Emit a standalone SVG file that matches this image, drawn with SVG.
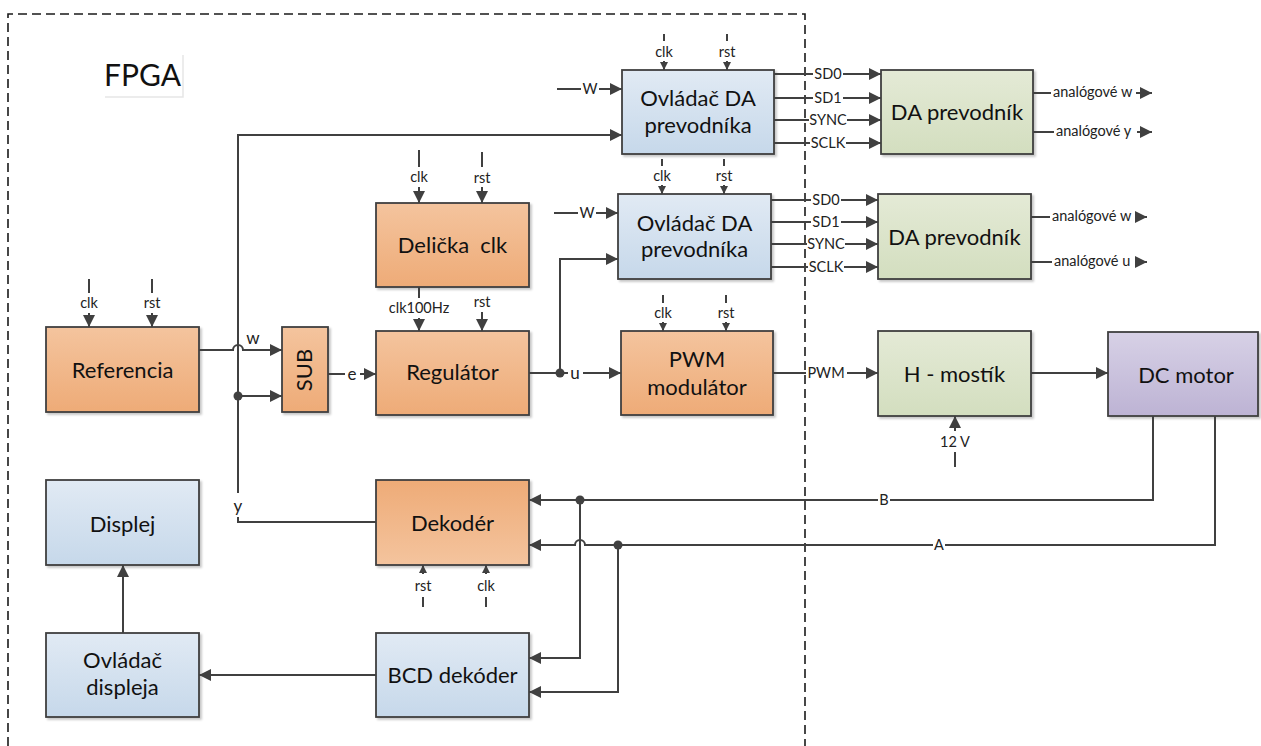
<svg xmlns="http://www.w3.org/2000/svg" width="1261" height="746" viewBox="0 0 1261 746">
  <defs>
    <linearGradient id="gOr" x1="0" y1="0" x2="0" y2="1">
      <stop offset="0" stop-color="#f4c49e"/>
      <stop offset="1" stop-color="#eeab77"/>
    </linearGradient>
    <linearGradient id="gOrR" x1="0" y1="0" x2="0" y2="1">
      <stop offset="0" stop-color="#eeab77"/>
      <stop offset="1" stop-color="#f4c49e"/>
    </linearGradient>
    <linearGradient id="gBl" x1="0" y1="0" x2="0" y2="1">
      <stop offset="0" stop-color="#e1eaf4"/>
      <stop offset="1" stop-color="#c6d8ea"/>
    </linearGradient>
    <linearGradient id="gGr" x1="0" y1="0" x2="0" y2="1">
      <stop offset="0" stop-color="#e4ead6"/>
      <stop offset="1" stop-color="#d3debf"/>
    </linearGradient>
    <linearGradient id="gPu" x1="0" y1="0" x2="0" y2="1">
      <stop offset="0" stop-color="#d7d1e6"/>
      <stop offset="1" stop-color="#bdb3d4"/>
    </linearGradient>
    <filter id="sh" x="-10%" y="-10%" width="130%" height="130%">
      <feDropShadow dx="2" dy="2" stdDeviation="1" flood-color="#000" flood-opacity="0.22"/>
    </filter>
    <marker id="ah" markerUnits="userSpaceOnUse" markerWidth="13" markerHeight="12" refX="12" refY="6" orient="auto">
      <path d="M0,0 L12,6 L0,12 z" fill="#404040"/>
    </marker>
    <marker id="as" markerUnits="userSpaceOnUse" markerWidth="9" markerHeight="8" refX="8" refY="4" orient="auto">
      <path d="M0,0 L8,4 L0,8 z" fill="#404040"/>
    </marker>
  </defs>
  <style>
    .box { stroke: #404040; stroke-width: 1.8; filter: url(#sh); }
    .w { fill: none; stroke: #404040; stroke-width: 2; }
    .a { marker-end: url(#ah); }
    .as { marker-end: url(#as); }
    .t { font-family: Lato, "Liberation Sans", sans-serif; font-size: 22px; fill: #111; text-anchor: middle; }
    .s { font-family: Lato, "Liberation Sans", sans-serif; font-size: 14.5px; fill: #222; text-anchor: middle; }
    .m { font-family: Lato, "Liberation Sans", sans-serif; font-size: 17px; fill: #222; text-anchor: middle; }
    .st { text-anchor: start; }
    .dot { fill: #404040; }
  </style>

  <rect width="1261" height="746" fill="#fff"/>

  <!-- FPGA boundary -->
  <g id="fpga">
    <path d="M8,746 V14 H805 V746" fill="none" stroke="#1a1a1a" stroke-width="1.6" stroke-dasharray="9,5"/>
    <polyline points="105,97 183,97 183,55" fill="none" stroke="#e6e6e6" stroke-width="1.5"/>
    <text x="104" y="86" font-family="Lato, 'Liberation Sans', sans-serif" font-size="30" fill="#111">FPGA</text>
  </g>

  <!-- blocks -->
  <g id="referencia">
    <rect class="box" x="46" y="327" width="153" height="85" fill="url(#gOr)"/>
    <text class="t" x="122.5" y="378">Referencia</text>
  </g>
  <g id="sub">
    <rect class="box" x="282" y="327" width="46" height="85" fill="url(#gOr)"/>
    <text class="t" transform="translate(312,370) rotate(-90)" x="0" y="0">SUB</text>
  </g>
  <g id="delicka">
    <rect class="box" x="376" y="203" width="153" height="84" fill="url(#gOr)"/>
    <text class="t" x="452.5" y="253" xml:space="preserve">Delička  clk</text>
  </g>
  <g id="regulator">
    <rect class="box" x="376" y="331" width="153" height="84" fill="url(#gOr)"/>
    <text class="t" x="452.5" y="380">Regulátor</text>
  </g>
  <g id="ovladac-da-1">
    <rect class="box" x="622" y="70" width="152" height="84" fill="url(#gBl)"/>
    <text class="t" x="698" y="106">Ovládač DA</text>
    <text class="t" x="698" y="133">prevodníka</text>
  </g>
  <g id="ovladac-da-2">
    <rect class="box" x="618" y="194" width="153" height="85" fill="url(#gBl)"/>
    <text class="t" x="694.5" y="231">Ovládač DA</text>
    <text class="t" x="694.5" y="257">prevodníka</text>
  </g>
  <g id="pwm">
    <rect class="box" x="621" y="331" width="152" height="84" fill="url(#gOr)"/>
    <text class="t" x="697" y="367">PWM</text>
    <text class="t" x="697" y="395">modulátor</text>
  </g>
  <g id="da-prevodnik-1">
    <rect class="box" x="881" y="70" width="152" height="84" fill="url(#gGr)"/>
    <text class="t" x="957" y="120">DA prevodník</text>
  </g>
  <g id="da-prevodnik-2">
    <rect class="box" x="878" y="194" width="153" height="85" fill="url(#gGr)"/>
    <text class="t" x="954.5" y="245">DA prevodník</text>
  </g>
  <g id="h-mostik">
    <rect class="box" x="878" y="331" width="153" height="85" fill="url(#gGr)"/>
    <text class="t" x="954.5" y="382">H - mostík</text>
  </g>
  <g id="dc-motor">
    <rect class="box" x="1108" y="332" width="150" height="84" fill="url(#gPu)"/>
    <text class="t" x="1186" y="383">DC motor</text>
  </g>
  <g id="dekoder">
    <rect class="box" x="376" y="480" width="153" height="85" fill="url(#gOrR)"/>
    <text class="t" x="452.5" y="531">Dekodér</text>
  </g>
  <g id="bcd-dekoder">
    <rect class="box" x="376" y="633" width="153" height="84" fill="url(#gBl)"/>
    <text class="t" x="452.5" y="683">BCD dekóder</text>
  </g>
  <g id="displej">
    <rect class="box" x="46" y="480" width="153" height="85" fill="url(#gBl)"/>
    <text class="t" x="122.5" y="532">Displej</text>
  </g>
  <g id="ovladac-displeja">
    <rect class="box" x="46" y="633" width="153" height="84" fill="url(#gBl)"/>
    <text class="t" x="122.5" y="668">Ovládač</text>
    <text class="t" x="122.5" y="695">displeja</text>
  </g>

  <!-- connectors -->
  <g id="connectors">
    <!-- DA driver 1 -->
    <path class="w" d="M664,34 V41"/>
    <text class="s" x="664" y="57">clk</text>
    <path class="w as" d="M664,61 V70"/>
    <path class="w" d="M727,34 V41"/>
    <text class="s" x="727" y="57">rst</text>
    <path class="w as" d="M727,61 V70"/>
    <path class="w" d="M557,89 H581"/>
    <text class="s" x="590" y="94">W</text>
    <path class="w a" d="M599,89 H622"/>
    <path class="w" d="M774,74 H813"/>
    <text class="s" x="828" y="79">SD0</text>
    <path class="w a" d="M843,74 H881"/>
    <path class="w" d="M774,98 H813"/>
    <text class="s" x="828" y="103">SD1</text>
    <path class="w a" d="M843,98 H881"/>
    <path class="w" d="M774,120 H809"/>
    <text class="s" x="828" y="125">SYNC</text>
    <path class="w a" d="M847,120 H881"/>
    <path class="w" d="M774,143 H810"/>
    <text class="s" x="828" y="148">SCLK</text>
    <path class="w a" d="M846,143 H881"/>

    <!-- DA converter 1 outputs -->
    <path class="w" d="M1033,93 H1051"/>
    <text class="s st" x="1053" y="97">analógové w</text>
    <path class="w a" d="M1136,93 H1152"/>
    <path class="w" d="M1033,132 H1054"/>
    <text class="s st" x="1056" y="136">analógové y</text>
    <path class="w a" d="M1137,132 H1152"/>

    <!-- DA driver 2 -->
    <path class="w" d="M662,159 V166"/>
    <text class="s" x="662" y="181">clk</text>
    <path class="w as" d="M662,185 V194"/>
    <path class="w" d="M724,159 V166"/>
    <text class="s" x="724" y="181">rst</text>
    <path class="w as" d="M724,185 V194"/>
    <path class="w" d="M554,213 H578"/>
    <text class="s" x="587" y="218">W</text>
    <path class="w a" d="M596,213 H618"/>
    <path class="w" d="M771,200 H811"/>
    <text class="s" x="826" y="205">SD0</text>
    <path class="w a" d="M841,200 H878"/>
    <path class="w" d="M771,222 H811"/>
    <text class="s" x="826" y="227">SD1</text>
    <path class="w a" d="M841,222 H878"/>
    <path class="w" d="M771,244 H807"/>
    <text class="s" x="826" y="249">SYNC</text>
    <path class="w a" d="M845,244 H878"/>
    <path class="w" d="M771,267 H808"/>
    <text class="s" x="826" y="272">SCLK</text>
    <path class="w a" d="M844,267 H878"/>

    <!-- DA converter 2 outputs -->
    <path class="w" d="M1031,217 H1050"/>
    <text class="s st" x="1052" y="221">analógové w</text>
    <path class="w a" d="M1135,217 H1147"/>
    <path class="w" d="M1031,262 H1052"/>
    <text class="s st" x="1054" y="266">analógové u</text>
    <path class="w a" d="M1135,262 H1147"/>

    <!-- clock divider -->
    <path class="w" d="M419,150 V167"/>
    <text class="s" x="419" y="182">clk</text>
    <path class="w a" d="M419,187 V203"/>
    <path class="w" d="M482,152 V167"/>
    <text class="s" x="482" y="183">rst</text>
    <path class="w a" d="M482,187 V203"/>

    <!-- controller -->
    <path class="w" d="M419,287 V298"/>
    <text class="s" x="419" y="313">clk100Hz</text>
    <path class="w a" d="M419,318 V331"/>
    <text class="s" x="482" y="307">rst</text>
    <path class="w a" d="M482,312 V331"/>

    <!-- reference -->
    <path class="w" d="M89,279 V293"/>
    <text class="s" x="89" y="308">clk</text>
    <path class="w a" d="M89,313 V327"/>
    <path class="w" d="M152,279 V293"/>
    <text class="s" x="152" y="308">rst</text>
    <path class="w a" d="M152,313 V327"/>

    <!-- w, y, e, u signals -->
    <path class="w a" d="M199,350 H233 a5,5 0 0 1 10,0 H282"/>
    <text class="m" x="253" y="344">w</text>
    <path class="w a" d="M238,396 H282"/>
    <path class="w a" d="M238,493 V135 H622"/>
    <text class="m" x="238" y="512">y</text>
    <path class="w" d="M238,517 V522 H376"/>
    <path class="w" d="M328,374 H345"/>
    <text class="m" x="352" y="380">e</text>
    <path class="w a" d="M360,374 H376"/>
    <path class="w" d="M529,373 H568"/>
    <text class="m" x="575" y="379">u</text>
    <path class="w a" d="M583,373 H621"/>
    <path class="w a" d="M560,373 V259 H618"/>

    <!-- PWM modulator -->
    <path class="w" d="M663,295 V303"/>
    <text class="s" x="663" y="318">clk</text>
    <path class="w as" d="M663,322 V331"/>
    <path class="w" d="M726,295 V303"/>
    <text class="s" x="726" y="318">rst</text>
    <path class="w as" d="M726,322 V331"/>
    <path class="w" d="M773,373 H806"/>
    <text class="s" x="826" y="378">PWM</text>
    <path class="w a" d="M847,373 H878"/>

    <!-- power stage -->
    <path class="w a" d="M1031,373 H1108"/>
    <path class="w a" d="M955,431 V416"/>
    <text class="s" x="955" y="447">12 V</text>
    <path class="w" d="M955,452 V467"/>

    <!-- encoder feedback -->
    <path class="w" d="M1153,416 V500 H890"/>
    <text class="s" x="884" y="505">B</text>
    <path class="w a" d="M878,500 H529"/>
    <path class="w" d="M1215,416 V545 H945"/>
    <text class="s" x="939" y="550">A</text>
    <path class="w a" d="M933,545 H585 a5,5 0 0 0 -10,0 H529"/>
    <path class="w a" d="M580,500 V658 H529"/>
    <path class="w a" d="M618,545 V692 H529"/>

    <!-- decoder -->
    <path class="w as" d="M423,574 V565"/>
    <text class="s" x="423" y="591">rst</text>
    <path class="w" d="M423,597 V607"/>
    <path class="w as" d="M486,574 V565"/>
    <text class="s" x="486" y="591">clk</text>
    <path class="w" d="M486,597 V607"/>

    <!-- display chain -->
    <path class="w a" d="M376,675 H199"/>
    <path class="w a" d="M123,633 V565"/>

    <!-- junctions -->
    <circle class="dot" cx="238" cy="396" r="4.5"/>
    <circle class="dot" cx="560" cy="373" r="4.5"/>
    <circle class="dot" cx="580" cy="500" r="4.5"/>
    <circle class="dot" cx="618" cy="545" r="4.5"/>
  </g>
</svg>
